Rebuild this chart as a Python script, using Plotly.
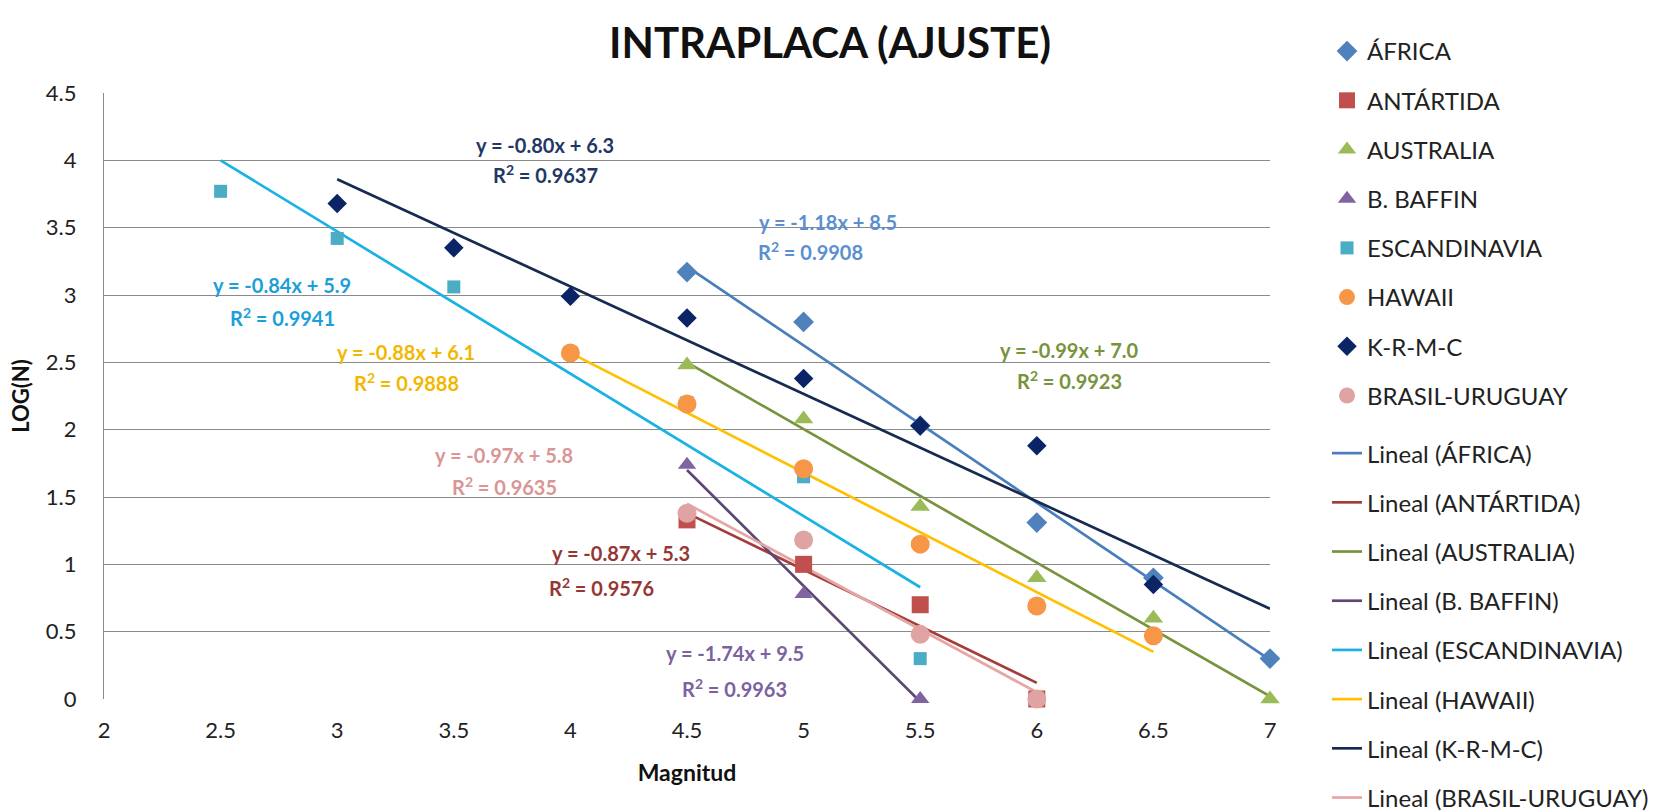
import plotly.graph_objects as go

# ---------------- data ----------------
series_names = ["ÁFRICA", "ANTÁRTIDA", "AUSTRALIA", "B. BAFFIN",
                "ESCANDINAVIA", "HAWAII", "K-R-M-C", "BRASIL-URUGUAY"]

africa_x = [4.5, 5, 5.5, 6, 6.5, 7]
africa_y = [3.17, 2.80, 2.03, 1.31, 0.90, 0.30]

antartida_x = [4.5, 5, 5.5, 6]
antartida_y = [1.33, 1.00, 0.70, 0.00]

australia_x = [4.5, 5, 5.5, 6, 6.5, 7]
australia_y = [2.48, 2.08, 1.43, 0.90, 0.60, 0.00]

baffin_x = [4.5, 5, 5.5]
baffin_y = [1.74, 0.78, 0.00]

escandinavia_x = [2.5, 3, 3.5, 4.5, 5, 5.5]
escandinavia_y = [3.77, 3.42, 3.06, 2.20, 1.65, 0.30]

hawaii_x = [4, 4.5, 5, 5.5, 6, 6.5]
hawaii_y = [2.57, 2.19, 1.71, 1.15, 0.69, 0.47]

krmc_x = [3, 3.5, 4, 4.5, 5, 5.5, 6, 6.5]
krmc_y = [3.68, 3.35, 2.99, 2.83, 2.38, 2.03, 1.88, 0.85]

brasil_x = [4.5, 5, 5.5, 6]
brasil_y = [1.38, 1.18, 0.48, 0.00]

# trend lines (Lineal): start/end x and y as drawn in the picture
trend_x0 = [4.5, 4.5, 4.5, 4.5, 2.5, 4.0, 3.0, 4.5]
trend_x1 = [7.0, 6.0, 7.0, 5.5, 5.5, 6.5, 7.0, 6.0]
trend_y0 = [3.21, 1.38, 2.50, 1.70, 4.00, 2.57, 3.86, 1.45]
trend_y1 = [0.29, 0.12, 0.02, -0.02, 0.83, 0.35, 0.67, 0.05]

eq_labels = ["y = -1.18x + 8.5", "y = -0.87x + 5.3", "y = -0.99x + 7.0",
             "y = -1.74x + 9.5", "y = -0.84x + 5.9", "y = -0.88x + 6.1",
             "y = -0.80x + 6.3", "y = -0.97x + 5.8"]
r2_labels = ["0.9908", "0.9576", "0.9923", "0.9963",
             "0.9941", "0.9888", "0.9637", "0.9635"]

# ---------------- styles ----------------
marker_colors = ["#4F81BD", "#C0504D", "#9BBB59", "#8064A2",
                 "#4BACC6", "#F79646", "#0B2466", "#E0A3A3"]
marker_symbols = ["diamond", "square", "triangle-up", "triangle-up",
                  "square", "circle", "diamond", "circle"]
marker_sizes = [16, 17, 17, 16, 13, 19, 15, 19]
line_colors = ["#4A7EBB", "#A33D3A", "#77933C", "#5C4776",
               "#1AB2E5", "#FFC000", "#172B52", "#E6A6A6"]
label_colors = ["#5A8FD0", "#953735", "#77933C", "#7A62A0",
                "#1C9FD9", "#F2B800", "#1F3864", "#D99694"]
# label positions (data coords): eq x, eq y, r2 x, r2 y
label_pos = [
    (5.103, 3.541, 5.030, 3.326),
    (4.219, 1.084, 4.133, 0.831),
    (6.140, 2.591, 6.140, 2.368),
    (4.704, 0.341, 4.704, 0.082),
    (2.765, 3.073, 2.765, 2.836),
    (3.297, 2.576, 3.297, 2.353),
    (3.893, 4.113, 3.893, 3.898),
    (3.717, 1.811, 3.717, 1.581),
]

xs = [africa_x, antartida_x, australia_x, baffin_x,
      escandinavia_x, hawaii_x, krmc_x, brasil_x]
ys = [africa_y, antartida_y, australia_y, baffin_y,
      escandinavia_y, hawaii_y, krmc_y, brasil_y]

FONT = "Lato"

fig = go.Figure()

# trend lines drawn below the markers; they go in the second legend
for i, name in enumerate(series_names):
    fig.add_trace(go.Scatter(
        x=[trend_x0[i], trend_x1[i]], y=[trend_y0[i], trend_y1[i]],
        mode="lines", name=f"Lineal ({name})",
        line=dict(color=line_colors[i], width=2.7),
        legend="legend2", legendgroup=f"l{i}", legendrank=100 + i,
        cliponaxis=False,
    ))

for i, name in enumerate(series_names):
    fig.add_trace(go.Scatter(
        x=xs[i], y=ys[i], mode="markers", name=name,
        marker=dict(color=marker_colors[i], symbol=marker_symbols[i],
                    size=marker_sizes[i], line=dict(width=0)),
        legend="legend", legendgroup=f"m{i}", legendrank=i, cliponaxis=False,
    ))

annotations = []
for i in range(8):
    ex, ey, rx, ry = label_pos[i]
    annotations.append(dict(x=ex, y=ey, xref="x", yref="y", text=eq_labels[i],
                            showarrow=False,
                            font=dict(family=FONT, size=20, color=label_colors[i], weight="bold")))
    annotations.append(dict(x=rx, y=ry, xref="x", yref="y",
                            text="R<sup>2</sup> = " + r2_labels[i],
                            showarrow=False,
                            font=dict(family=FONT, size=20, color=label_colors[i], weight="bold")))

legend_font = dict(family=FONT, size=24, color="#222222")

fig.update_layout(
    width=1656, height=812,
    margin=dict(l=104, r=386, t=93, b=113, autoexpand=False),
    paper_bgcolor="white", plot_bgcolor="white",
    font=dict(family=FONT, color="#222222"),
    title=dict(text="<b>INTRAPLACA (AJUSTE)</b>", x=830 / 1656, xanchor="center",
               y=1 - 43 / 812, yanchor="middle",
               font=dict(family=FONT, size=42, color="#111111")),
    xaxis=dict(range=[2, 7], dtick=0.5, tick0=2, showgrid=False, zeroline=False,
               showline=False, ticks="", ticklabelstandoff=16,
               tickfont=dict(family=FONT, size=22, color="#222222"),
               title=dict(text="<b>Magnitud</b>", standoff=22,
                          font=dict(family=FONT, size=23, color="#111111"))),
    yaxis=dict(range=[0, 4.5], dtick=0.5, tick0=0, showgrid=True,
               gridcolor="#8A8A8A", gridwidth=1.3, zeroline=False,
               showline=True, linecolor="#8A8A8A", linewidth=1.3,
               ticks="", ticklabelstandoff=22,
               tickfont=dict(family=FONT, size=22, color="#222222"),
               title=dict(text="<b>LOG(N)</b>", standoff=10,
                          font=dict(family=FONT, size=22, color="#111111"))),
    legend=dict(x=1.0489, xanchor="left", y=1.1056, yanchor="top",
                traceorder="grouped", tracegroupgap=15,
                font=legend_font, bgcolor="rgba(0,0,0,0)"),
    legend2=dict(x=1.0489, xanchor="left", y=0.4422, yanchor="top",
                 traceorder="grouped", tracegroupgap=15,
                 font=legend_font, bgcolor="rgba(0,0,0,0)"),
    annotations=annotations,
    showlegend=True,
)

fig.write_html("out.html")
